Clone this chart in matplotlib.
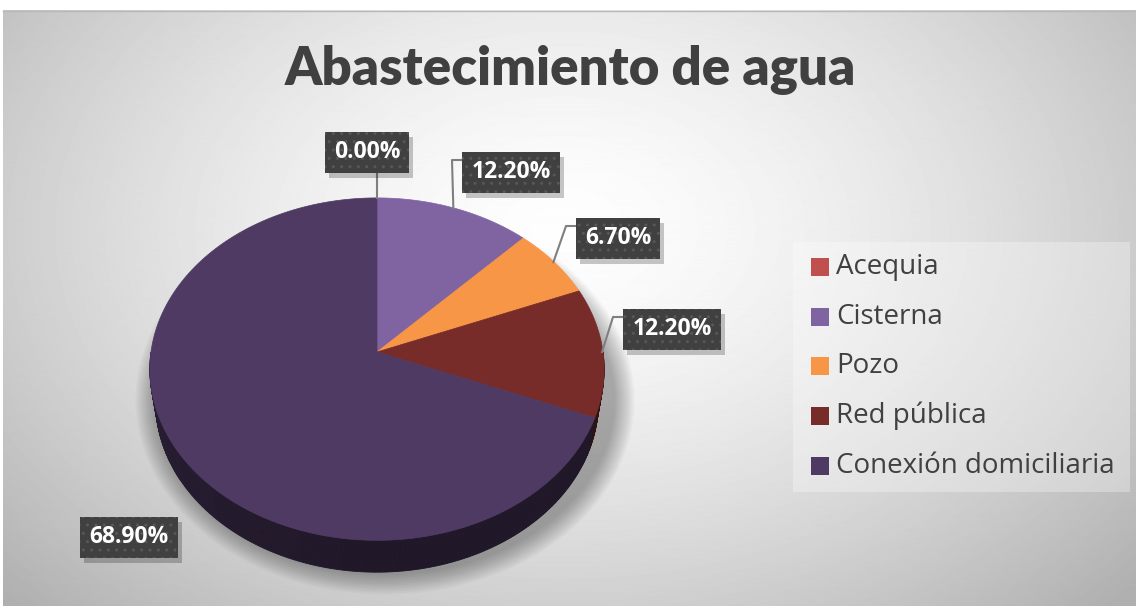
import numpy as np
import matplotlib
matplotlib.use("Agg")
import matplotlib.pyplot as plt
from matplotlib.patches import Polygon, Rectangle, Ellipse
import matplotlib.colors as mcolors

# data
categories = ["Acequia", "Cisterna", "Pozo", "Red pública", "Conexión domiciliaria"]
values = [0.0, 12.2, 6.7, 12.2, 68.9]
labels = ["0.00%", "12.20%", "6.70%", "12.20%", "68.90%"]
colors = ["#c0504d", "#8064a2", "#f79646", "#772c2a", "#4f3a63"]
title = "Abastecimiento de agua"

# label box centres (pixels) and leader style
label_pos = [(367, 152), (511, 172), (618, 238), (672, 329), (129, 537)]
label_line = ["up", "elbow", "elbow", "elbow", None]

W, H = 1136, 610
plt.rcParams['font.family'] = ['Open Sans', 'DejaVu Sans']

fig = plt.figure(figsize=(W / 100, H / 100), dpi=100)
ax = fig.add_axes([0, 0, 1, 1])
ax.set_xlim(0, W)
ax.set_ylim(H, 0)
ax.axis('off')

# background: radial grey gradient
yy, xx = np.mgrid[0:600, 0:1133]
d = np.sqrt(((xx - 560) / 620.0) ** 2 + ((yy - 220) / 430.0) ** 2)
g = 0.995 - 0.22 * np.clip(d, 0, 1.25) ** 1.5
ax.imshow(g, cmap='gray', vmin=0, vmax=1, extent=[3, W, 606, 10], zorder=0, aspect='auto')
ax.plot([3, W], [10.5, 10.5], color='#b8b8b8', lw=1, zorder=1)

# pie geometry: unit circle seen in perspective
cx, ay = 377, 352          # projected centre of the top face
phi = np.arcsin(0.75)      # elevation
cphi, sphi = np.cos(phi), np.sin(phi)
D = 10 * cphi              # camera distance
f = 226 * D                # focal scale
zb = -0.23                 # thickness


def proj(t, z=0.0):
    x, y = np.sin(t), np.cos(t)
    w = D + y * cphi - z * sphi
    sx = f * x / w
    sy = f * (y * sphi + z * cphi) / w
    return cx + sx, ay - sy


fracs = np.array(values) / sum(values)
bounds = np.concatenate([[0], np.cumsum(fracs)]) * 2 * np.pi

# soft shadow under the pie
for k in range(14):
    e = Ellipse((cx + 8, 400), 460 + 3 * k, 350 + 3 * k,
                fc='#000000', ec='none', alpha=0.025, zorder=2)
    ax.add_patch(e)

# side of the pie (front half)
for i in range(len(values)):
    t0, t1 = bounds[i], bounds[i + 1]
    a0, a1 = max(t0, np.pi / 2), min(t1, 1.5 * np.pi)
    if a1 <= a0:
        continue
    n = max(2, int((a1 - a0) / 0.01))
    ts = np.linspace(a0, a1, n + 1)
    base = np.array(mcolors.to_rgb(colors[i]))
    for j in range(n):
        ta, tb = ts[j], ts[j + 1]
        tm = 0.5 * (ta + tb)
        fct = 0.40 + 0.12 * np.clip((tm - np.pi) / (0.5 * np.pi), 0, 1)
        c = base * fct
        ax.add_patch(Polygon([proj(ta), proj(tb), proj(tb, zb), proj(ta, zb)],
                             closed=True, fc=c, ec=c, lw=0.6, zorder=3))

# top face
for i in range(len(values)):
    t0, t1 = bounds[i], bounds[i + 1]
    if t1 - t0 <= 0:
        continue
    ts = np.linspace(t0, t1, max(3, int((t1 - t0) / 0.01)))
    pts = [(cx, ay)] + [proj(t) for t in ts]
    ax.add_patch(Polygon(pts, closed=True, fc=colors[i], ec=colors[i], lw=0.5, zorder=4))

# data labels
for i, lab in enumerate(labels):
    bx, by = label_pos[i]
    w = 84 if len(lab) == 5 else 98
    h = 41
    tm = 0.5 * (bounds[i] + bounds[i + 1])
    rxp, ryp = proj(tm)
    if label_line[i] == "up":
        ax.plot([rxp, rxp], [ryp, by + h / 2], color='#7f7f7f', lw=1.5, zorder=5)
    elif label_line[i] == "elbow":
        ax.plot([rxp - 1, bx - w / 2 - 10, bx - w / 2], [ryp, by - 12, by - 12],
                color='#7f7f7f', lw=1.5, zorder=5)
    ax.add_patch(Rectangle((bx - w / 2 + 4, by - h / 2 + 5), w, h, fc='#000000', ec='none',
                           alpha=0.22, zorder=6))
    ax.add_patch(Rectangle((bx - w / 2, by - h / 2), w, h, fc='#404040', ec='#575757',
                           lw=0, hatch='..', zorder=7))
    ax.text(bx, by, lab, color='white', fontsize=16.5, fontweight='bold',
            ha='center', va='center', zorder=8)

# title
ax.text(570, 70, title, fontsize=38, fontweight='heavy', color='#404040',
        ha='center', va='center', zorder=8, family=['Lato', 'DejaVu Sans'])

# legend
ax.add_patch(Rectangle((793, 242), 337, 250, fc='white', ec='none', alpha=0.3, zorder=5))
for i, cat in enumerate(categories):
    y = 267 + i * 49.7
    ax.add_patch(Rectangle((811, y - 9), 18, 18, fc=colors[i], ec='none', zorder=6))
    ax.text(836, y, cat, fontsize=20, color='#404040', ha='left', va='center', zorder=6)

fig.savefig("out.png", dpi=100)
